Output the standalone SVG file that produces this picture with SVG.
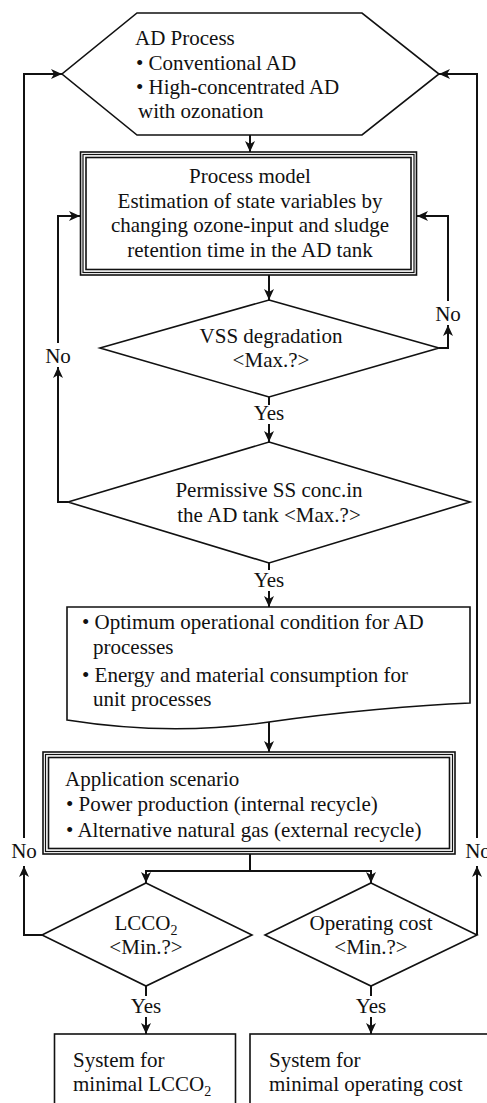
<svg xmlns="http://www.w3.org/2000/svg" width="487" height="1103" viewBox="0 0 487 1103">
<style>
  text { font-family: "Liberation Serif", "Times New Roman", serif; font-size: 21px; fill: #111; }
  .c { text-anchor: middle; }
  .shape { fill: #fff; stroke: #111; stroke-width: 1.6; }
  .thin { fill: none; stroke: #111; stroke-width: 1.2; }
  .conn { fill: none; stroke: #111; stroke-width: 2; }
</style>
<defs>
  <marker id="ah" markerUnits="userSpaceOnUse" markerWidth="12" markerHeight="12" viewBox="0 0 12 12" refX="11" refY="6" orient="auto">
    <path d="M0,1 L11,6 L0,11 L3,6 z" fill="#111"/>
  </marker>
</defs>
<rect width="487" height="1103" fill="#fff"/>

<g id="connectors">
  <path class="conn" d="M250,135 V152" marker-end="url(#ah)"/>
  <path class="conn" d="M269,275 V300" marker-end="url(#ah)"/>
  <path class="conn" d="M439,348 H448 V325" marker-end="url(#ah)"/>
  <path class="conn" d="M448,301 V216 H417" marker-end="url(#ah)"/>
  <path class="conn" d="M269,397 V405"/>
  <path class="conn" d="M269,424 V442" marker-end="url(#ah)"/>
  <path class="conn" d="M68,502 H58 V367" marker-end="url(#ah)"/>
  <path class="conn" d="M58,343 V216 H80" marker-end="url(#ah)"/>
  <path class="conn" d="M269,563 V570"/>
  <path class="conn" d="M269,591 V607" marker-end="url(#ah)"/>
  <path class="conn" d="M269,722 V752" marker-end="url(#ah)"/>
  <path class="conn" d="M250,854 V871 M146,871 H371"/>
  <path class="conn" d="M146,870 V883" marker-end="url(#ah)"/>
  <path class="conn" d="M371,870 V883" marker-end="url(#ah)"/>
  <path class="conn" d="M42,935 H24 V866" marker-end="url(#ah)"/>
  <path class="conn" d="M24,838 V74 H62" marker-end="url(#ah)"/>
  <path class="conn" d="M477,935 V866" marker-end="url(#ah)"/>
  <path class="conn" d="M477,838 V74 H439" marker-end="url(#ah)"/>
  <path class="conn" d="M146,986 V996"/>
  <path class="conn" d="M146,1017 V1034" marker-end="url(#ah)"/>
  <path class="conn" d="M371,986 V996"/>
  <path class="conn" d="M371,1017 V1034" marker-end="url(#ah)"/>
  <text x="448" y="321" class="c">No</text>
  <text x="58" y="363" class="c">No</text>
  <text x="269" y="420" class="c">Yes</text>
  <text x="269" y="587" class="c">Yes</text>
  <text x="24" y="858" class="c">No</text>
  <text x="478" y="858" class="c">No</text>
  <text x="146" y="1013" class="c">Yes</text>
  <text x="371" y="1013" class="c">Yes</text>
</g>

<g id="ad-process">
  <polygon class="shape" points="137,13 362,13 439,74 362,135 137,135 62,74"/>
  <text x="135" y="45">AD Process</text>
  <text x="136" y="70">• Conventional AD</text>
  <text x="136" y="94">• High-concentrated AD</text>
  <text x="138" y="118">with ozonation</text>
</g>

<g id="process-model">
  <rect class="shape" x="80.5" y="152" width="336" height="123"/>
  <rect class="thin" x="83" y="154.5" width="331" height="118"/>
  <rect class="shape" x="86" y="157.5" width="325" height="112" style="fill:none"/>
  <text x="250" y="183" class="c">Process model</text>
  <text x="250" y="208" class="c">Estimation of state variables by</text>
  <text x="250" y="232" class="c">changing ozone-input and sludge</text>
  <text x="250" y="257" class="c">retention time in the AD tank</text>
</g>

<g id="vss-degradation">
  <polygon class="shape" points="269,300 439,348 269,397 100,348"/>
  <text x="271" y="343" class="c">VSS degradation</text>
  <text x="271" y="367" class="c">&lt;Max.?&gt;</text>
</g>

<g id="permissive-ss">
  <polygon class="shape" points="269,442 470,502 269,563 68,502"/>
  <text x="269" y="497" class="c">Permissive SS conc.in</text>
  <text x="269" y="522" class="c">the AD tank &lt;Max.?&gt;</text>
</g>

<g id="optimum-condition">
  <path class="shape" d="M67,607 H470 V703 C420,705 338,712 269,722 C200,732 130,730 67,720 Z"/>
  <text x="82" y="629">• Optimum operational condition for AD</text>
  <text x="93" y="654">processes</text>
  <text x="82" y="682">• Energy and material consumption for</text>
  <text x="93" y="706">unit processes</text>
</g>

<g id="application-scenario">
  <rect class="shape" x="43" y="752" width="412" height="102"/>
  <rect class="thin" x="45.5" y="754.5" width="407" height="97"/>
  <rect class="shape" x="48.5" y="757.5" width="401" height="91" style="fill:none"/>
  <text x="65" y="786">Application scenario</text>
  <text x="66" y="811">• Power production (internal recycle)</text>
  <text x="66" y="837">• Alternative natural gas (external recycle)</text>
</g>

<g id="lcco2-decision">
  <polygon class="shape" points="146,883 252,935 146,986 42,935"/>
  <text x="146" y="930" class="c">LCCO<tspan font-size="14" dy="5">2</tspan></text>
  <text x="146" y="954" class="c">&lt;Min.?&gt;</text>
</g>

<g id="cost-decision">
  <polygon class="shape" points="371,883 477,935 371,986 265,935"/>
  <text x="371" y="930" class="c">Operating cost</text>
  <text x="371" y="954" class="c">&lt;Min.?&gt;</text>
</g>

<g id="system-lcco2">
  <rect class="shape" x="54.5" y="1034" width="181" height="80"/>
  <text x="73" y="1067">System for</text>
  <text x="73" y="1091">minimal LCCO<tspan font-size="14" dy="5">2</tspan></text>
</g>

<g id="system-cost">
  <rect class="shape" x="250" y="1034" width="250" height="80"/>
  <text x="269" y="1067">System for</text>
  <text x="269" y="1091">minimal operating cost</text>
</g>
</svg>
